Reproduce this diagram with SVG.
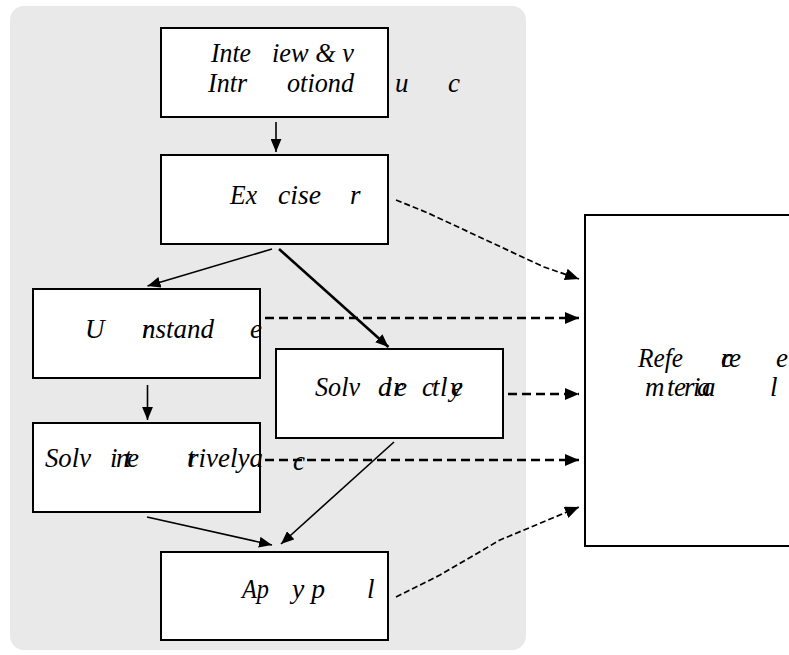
<svg xmlns="http://www.w3.org/2000/svg" width="789" height="655" viewBox="0 0 789 655">
<defs>
<style>
.box{fill:#fff;stroke:#000;stroke-width:2}
.s{fill:none;stroke:#000;stroke-width:1.6}
.sb{fill:none;stroke:#000;stroke-width:2.6}
.d{fill:none;stroke:#000;stroke-width:2.3;stroke-dasharray:9 5}
.dt{fill:none;stroke:#000;stroke-width:1.7;stroke-dasharray:6 3}
</style>
<marker id="a" viewBox="0 0 12 10" refX="12" refY="5" markerWidth="13" markerHeight="11" markerUnits="userSpaceOnUse" orient="auto"><path d="M0,0 L12,5 L0,10 z"/></marker>
<marker id="ad" viewBox="0 0 14 12" refX="14" refY="6" markerWidth="14" markerHeight="12" markerUnits="userSpaceOnUse" orient="auto"><path d="M0,0 L14,6 L0,12 z"/></marker>
</defs>
<rect x="10" y="6" width="516" height="644" rx="14" fill="#e9e9e9"/>
<g id="connectors">
<line class="s" x1="276" y1="122" x2="276" y2="152" marker-end="url(#a)"/>
<line class="s" x1="272" y1="249" x2="147.5" y2="286" marker-end="url(#a)"/>
<line class="sb" x1="279" y1="249" x2="388.5" y2="347" marker-end="url(#a)"/>
<line class="s" x1="147.5" y1="385" x2="147.5" y2="420" marker-end="url(#a)"/>
<line class="s" x1="147" y1="517" x2="272" y2="545" marker-end="url(#a)"/>
<line class="s" x1="394" y1="442" x2="281" y2="544" marker-end="url(#a)"/>
<polyline class="dt" points="396,200 428,213 473,234 544,267 579,279" marker-end="url(#ad)"/>
<line class="d" x1="265" y1="318" x2="579" y2="318" marker-end="url(#ad)"/>
<line class="d" x1="508" y1="394" x2="579" y2="394" marker-end="url(#ad)"/>
<line class="d" x1="265" y1="460" x2="579" y2="460" marker-end="url(#ad)"/>
<polyline class="dt" points="396,597 440,575 500,540 579,507" marker-end="url(#ad)"/>
</g>
<g font-family="'Liberation Serif', 'Times New Roman', serif" font-style="italic" font-size="27" fill="#000">
<g id="interview">
<rect class="box" x="161" y="28" width="227" height="89"/>
<text x="211" y="62" textLength="40" lengthAdjust="spacingAndGlyphs">Inte</text>
<text x="272" y="62" textLength="82" lengthAdjust="spacingAndGlyphs">iew &amp; v</text>
<text x="208" y="92" textLength="39" lengthAdjust="spacingAndGlyphs">Intr</text>
<text x="287" y="92" textLength="67" lengthAdjust="spacingAndGlyphs">otiond</text>
<text x="395" y="92">u</text>
<text x="448" y="92">c</text>
</g>
<g id="exercise">
<rect class="box" x="161" y="155" width="227" height="89"/>
<text x="230" y="204" textLength="27" lengthAdjust="spacingAndGlyphs">Ex</text>
<text x="278" y="204" textLength="43" lengthAdjust="spacingAndGlyphs">cise</text>
<text x="350" y="204">r</text>
</g>
<g id="understand">
<rect class="box" x="33" y="289" width="227" height="89"/>
<text x="85" y="338">U</text>
<text x="142 142" y="338">rnstand</text>
<text x="250" y="338">e</text>
</g>
<g id="solve-directly">
<rect class="box" x="276" y="349" width="227" height="89"/>
<text x="315" y="396" textLength="45" lengthAdjust="spacingAndGlyphs">Solv</text>
<text x="378 385 393 395" y="396">dire</text>
<text x="422 432 440 450 451" y="396">ctlye</text>
</g>
<g id="solve-interactively">
<rect class="box" x="33" y="423" width="227" height="89"/>
<text x="45" y="467" textLength="46" lengthAdjust="spacingAndGlyphs">Solv</text>
<text x="110 116 124 127" y="467">inte</text>
<text x="187 188" y="467">trivelya</text>
<text x="293" y="470">c</text>
</g>
<g id="apply">
<rect class="box" x="161" y="552" width="227" height="88"/>
<text x="242" y="598" textLength="27" lengthAdjust="spacingAndGlyphs">Ap</text>
<text x="292" y="598" textLength="33" lengthAdjust="spacingAndGlyphs">y p</text>
<text x="367" y="598">l</text>
</g>
<g id="reference">
<rect class="box" x="585" y="215" width="230" height="331"/>
<text x="638" y="367" textLength="45" lengthAdjust="spacingAndGlyphs">Refe</text>
<text x="721 721 729" y="367">cre</text>
<text x="776" y="367">e</text>
<text x="645" y="396">m</text>
<text x="667 674 684 693 697 702" y="396">teriaa</text>
<text x="770" y="396">l</text>
</g>
</g>
</svg>
